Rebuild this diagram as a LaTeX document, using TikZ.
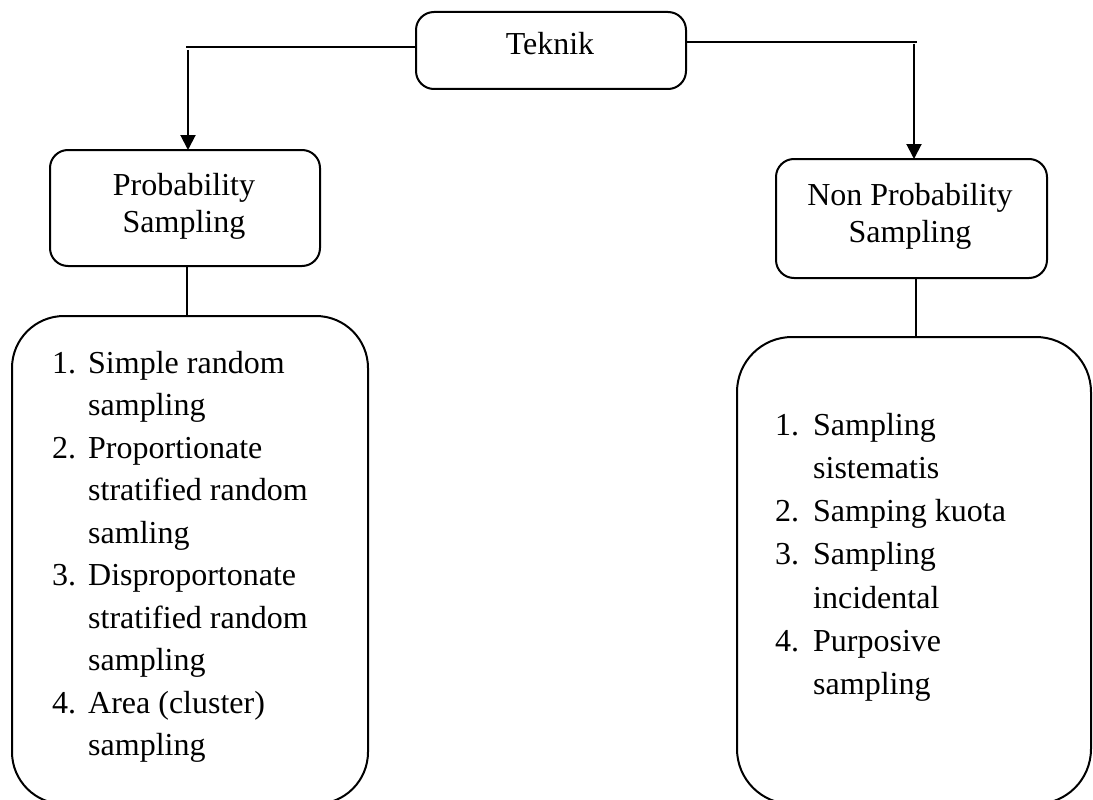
\documentclass[tikz,border=0pt]{standalone}
\usepackage{fontspec}
\setmainfont{Liberation Serif}
\usetikzlibrary{arrows.meta}
\begin{document}
\begin{tikzpicture}[x=1pt,y=-1pt,
  box/.style={draw, line width=2pt, rectangle, inner sep=0pt, outer sep=0pt},
  hdr/.style={box, rounded corners=18pt},
  lst/.style={box, rounded corners=52pt},
  conn/.style={line width=1.3pt},
  arr/.style={line width=2pt, -{Triangle[width=15pt,length=15pt]}},
  txt/.style={inner sep=0pt, font=\fontsize{32}{37}\selectfont},
  ltxt/.style={inner sep=0pt, anchor=base west},
]
\useasboundingbox (0,0) rectangle (1093,800);
\begin{scope}
\clip (0,0) rectangle (1093,800);
% boxes
\node[hdr, minimum width=270pt, minimum height=77pt] (Teknik) at (551,50.5) {};
\node[hdr, minimum width=270pt, minimum height=116pt] (Prob) at (185,208) {};
\node[hdr, minimum width=271pt, minimum height=119pt] (NonProb) at (911.5,218.5) {};
\node[lst, minimum width=356pt, minimum height=488pt] (ListL) at (190,560) {};
\node[lst, rounded corners=55pt, minimum width=354pt, minimum height=467pt] (ListR) at (914,570.5) {};
\end{scope}

% texts
\node[txt, anchor=base] (tTeknik) at (550,55) {Teknik};
\node[txt, anchor=base] (tProb) at (184,195) {\begin{tabular}[t]{@{}c@{}}Probability\\Sampling\end{tabular}};
\node[txt, anchor=base] (tNonProb) at (910,205) {\begin{tabular}[t]{@{}c@{}}Non Probability\\Sampling\end{tabular}};

\node[ltxt, font=\fontsize{32}{42.5}\selectfont] (tListL) at (52,373) {%
\begin{tabular}[t]{@{}p{36pt}@{}l@{}}
1. & Simple random\\
   & sampling\\
2. & Proportionate\\
   & stratified random\\
   & samling\\
3. & Disproportonate\\
   & stratified random\\
   & sampling\\
4. & Area (cluster)\\
   & sampling
\end{tabular}};

\node[ltxt, font=\fontsize{32}{43.3}\selectfont] (tListR) at (775,435) {%
\begin{tabular}[t]{@{}p{38pt}@{}l@{}}
1. & Sampling\\
   & sistematis\\
2. & Samping kuota\\
3. & Sampling\\
   & incidental\\
4. & Purposive\\
   & sampling
\end{tabular}};

% connectors
\coordinate (hl) at (186,47);
\coordinate (vl) at (188,50);
\coordinate (hr) at (917,42);
\coordinate (vr) at (914,44);
\coordinate (cl) at (187,0);
\coordinate (cr) at (916,0);
\draw[conn] (Teknik.west |- hl) -- (hl);
\draw[arr] (vl) -- (vl |- Prob.north);
\draw[conn] (Teknik.east |- hr) -- (hr);
\draw[arr] (vr) -- (vr |- NonProb.north);
\draw[conn] (cl |- Prob.south) -- (cl |- ListL.north);
\draw[conn] (cr |- NonProb.south) -- (cr |- ListR.north);
\end{tikzpicture}
\end{document}
